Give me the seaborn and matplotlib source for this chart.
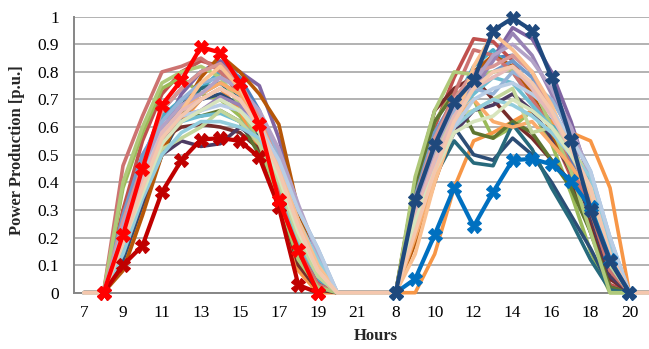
import numpy as np
import pandas as pd
import matplotlib
matplotlib.use("Agg")
import matplotlib.pyplot as plt
import seaborn as sns

# Hour labels of the two days shown side by side (30 category slots)
day1_hours = list(range(7, 22))
day2_hours = list(range(7, 22))
hour_labels = [str(h) for h in day1_hours + day2_hours]

# Daily production profiles (p.u.) for hours 9..19 of each day
profile_colors = [
    "#4F81BD", "#C0504D", "#9BBB59", "#8064A2", "#4BACC6", "#F79646",
    "#2C4D75", "#772C2A", "#5F7530", "#4D3B62", "#276A7C", "#B65708",
    "#729ACA", "#CD7371", "#AFC97A", "#9983B5", "#6FBDD1", "#F9AB6B",
    "#95B3D7", "#D99694", "#C3D69B", "#B3A2C7", "#93CDDD", "#FAC090",
    "#B9CDE5", "#E6B9B8", "#D7E4BD", "#F4C7AE",
]
day1_profiles = [
    [0.25, 0.48, 0.66, 0.74, 0.80, 0.83, 0.78, 0.66, 0.47, 0.25, 0.08],
    [0.30, 0.55, 0.72, 0.80, 0.84, 0.82, 0.74, 0.60, 0.40, 0.18, 0.04],
    [0.38, 0.58, 0.74, 0.78, 0.72, 0.70, 0.64, 0.55, 0.36, 0.14, 0.02],
    [0.18, 0.40, 0.58, 0.72, 0.80, 0.84, 0.80, 0.75, 0.56, 0.30, 0.10],
    [0.15, 0.38, 0.64, 0.70, 0.74, 0.80, 0.72, 0.58, 0.40, 0.20, 0.05],
    [0.10, 0.30, 0.52, 0.62, 0.70, 0.74, 0.66, 0.52, 0.32, 0.08, 0.00],
    [0.12, 0.32, 0.50, 0.64, 0.70, 0.72, 0.68, 0.62, 0.50, 0.28, 0.10],
    [0.20, 0.40, 0.56, 0.60, 0.61, 0.60, 0.58, 0.52, 0.34, 0.10, 0.01],
    [0.22, 0.42, 0.60, 0.66, 0.64, 0.66, 0.62, 0.50, 0.32, 0.12, 0.02],
    [0.14, 0.33, 0.50, 0.55, 0.53, 0.54, 0.60, 0.55, 0.40, 0.16, 0.03],
    [0.16, 0.36, 0.58, 0.68, 0.74, 0.76, 0.70, 0.56, 0.38, 0.14, 0.02],
    [0.08, 0.28, 0.50, 0.66, 0.78, 0.86, 0.80, 0.72, 0.61, 0.30, 0.08],
    [0.28, 0.50, 0.62, 0.70, 0.72, 0.76, 0.72, 0.60, 0.44, 0.24, 0.10],
    [0.46, 0.64, 0.80, 0.82, 0.85, 0.80, 0.72, 0.58, 0.38, 0.16, 0.03],
    [0.40, 0.60, 0.76, 0.80, 0.82, 0.78, 0.68, 0.54, 0.34, 0.12, 0.02],
    [0.20, 0.42, 0.56, 0.64, 0.66, 0.71, 0.68, 0.60, 0.46, 0.22, 0.06],
    [0.24, 0.44, 0.60, 0.62, 0.64, 0.65, 0.62, 0.55, 0.40, 0.18, 0.06],
    [0.18, 0.38, 0.58, 0.66, 0.72, 0.76, 0.72, 0.62, 0.44, 0.22, 0.06],
    [0.22, 0.44, 0.62, 0.70, 0.76, 0.78, 0.74, 0.64, 0.50, 0.30, 0.16],
    [0.26, 0.46, 0.66, 0.74, 0.80, 0.83, 0.76, 0.64, 0.46, 0.26, 0.08],
    [0.16, 0.36, 0.52, 0.56, 0.60, 0.66, 0.62, 0.54, 0.40, 0.20, 0.06],
    [0.24, 0.44, 0.60, 0.68, 0.72, 0.78, 0.74, 0.66, 0.52, 0.32, 0.14],
    [0.14, 0.34, 0.50, 0.58, 0.62, 0.62, 0.60, 0.56, 0.44, 0.26, 0.12],
    [0.20, 0.40, 0.56, 0.66, 0.76, 0.82, 0.74, 0.62, 0.46, 0.26, 0.10],
    [0.22, 0.42, 0.58, 0.64, 0.66, 0.68, 0.66, 0.60, 0.48, 0.30, 0.16],
    [0.20, 0.40, 0.58, 0.66, 0.70, 0.74, 0.70, 0.60, 0.44, 0.24, 0.08],
    [0.18, 0.36, 0.54, 0.62, 0.66, 0.70, 0.66, 0.58, 0.42, 0.22, 0.08],
    [0.18, 0.38, 0.56, 0.64, 0.70, 0.74, 0.70, 0.60, 0.44, 0.24, 0.08],
]
day2_profiles = [
    [0.30, 0.52, 0.68, 0.78, 0.85, 0.86, 0.80, 0.66, 0.48, 0.30, 0.10],
    [0.35, 0.60, 0.78, 0.92, 0.91, 0.84, 0.72, 0.58, 0.42, 0.22, 0.03],
    [0.40, 0.62, 0.73, 0.70, 0.56, 0.60, 0.66, 0.54, 0.36, 0.15, 0.00],
    [0.22, 0.45, 0.62, 0.74, 0.85, 0.96, 0.92, 0.80, 0.62, 0.40, 0.16],
    [0.25, 0.50, 0.68, 0.82, 0.88, 0.80, 0.70, 0.62, 0.50, 0.38, 0.10],
    [0.00, 0.14, 0.38, 0.55, 0.58, 0.62, 0.66, 0.62, 0.58, 0.55, 0.38],
    [0.30, 0.48, 0.60, 0.50, 0.48, 0.56, 0.50, 0.40, 0.28, 0.16, 0.02],
    [0.40, 0.66, 0.74, 0.78, 0.70, 0.62, 0.56, 0.48, 0.40, 0.25, 0.05],
    [0.38, 0.62, 0.72, 0.58, 0.56, 0.62, 0.58, 0.48, 0.38, 0.22, 0.02],
    [0.20, 0.44, 0.58, 0.66, 0.68, 0.72, 0.66, 0.56, 0.44, 0.28, 0.06],
    [0.25, 0.42, 0.55, 0.47, 0.46, 0.61, 0.52, 0.38, 0.26, 0.12, 0.01],
    [0.18, 0.40, 0.60, 0.80, 0.86, 0.82, 0.72, 0.58, 0.44, 0.30, 0.08],
    [0.35, 0.58, 0.70, 0.76, 0.80, 0.84, 0.78, 0.66, 0.52, 0.34, 0.12],
    [0.32, 0.55, 0.72, 0.88, 0.86, 0.80, 0.70, 0.60, 0.46, 0.30, 0.08],
    [0.42, 0.66, 0.80, 0.79, 0.80, 0.81, 0.76, 0.60, 0.44, 0.22, 0.00],
    [0.26, 0.50, 0.66, 0.74, 0.84, 0.94, 0.86, 0.72, 0.56, 0.36, 0.10],
    [0.32, 0.52, 0.64, 0.72, 0.78, 0.76, 0.68, 0.60, 0.50, 0.40, 0.14],
    [0.20, 0.42, 0.62, 0.70, 0.62, 0.60, 0.62, 0.54, 0.46, 0.36, 0.14],
    [0.28, 0.50, 0.66, 0.74, 0.72, 0.80, 0.76, 0.70, 0.58, 0.44, 0.20],
    [0.34, 0.56, 0.70, 0.80, 0.82, 0.86, 0.80, 0.66, 0.50, 0.36, 0.12],
    [0.30, 0.50, 0.64, 0.66, 0.70, 0.74, 0.58, 0.60, 0.52, 0.42, 0.10],
    [0.30, 0.52, 0.68, 0.76, 0.86, 0.90, 0.84, 0.74, 0.60, 0.42, 0.16],
    [0.28, 0.46, 0.60, 0.66, 0.70, 0.68, 0.64, 0.58, 0.50, 0.42, 0.16],
    [0.14, 0.40, 0.60, 0.82, 0.94, 0.88, 0.80, 0.68, 0.52, 0.36, 0.12],
    [0.24, 0.46, 0.60, 0.70, 0.74, 0.76, 0.72, 0.66, 0.56, 0.44, 0.20],
    [0.28, 0.48, 0.64, 0.74, 0.78, 0.82, 0.74, 0.64, 0.52, 0.38, 0.14],
    [0.26, 0.44, 0.58, 0.62, 0.64, 0.70, 0.66, 0.60, 0.50, 0.38, 0.12],
    [0.22, 0.44, 0.62, 0.74, 0.80, 0.82, 0.76, 0.66, 0.52, 0.38, 0.14],
]

# Highlighted days with markers
red_hours = list(range(8, 20))
red_high = [0.0, 0.21, 0.45, 0.68, 0.77, 0.89, 0.87, 0.76, 0.61, 0.335, 0.155, 0.0]
red_low = [0.0, 0.10, 0.17, 0.365, 0.48, 0.555, 0.56, 0.55, 0.49, 0.31, 0.028, 0.0]
blue_hours = list(range(8, 21))
navy_high = [0.0, 0.335, 0.535, 0.69, 0.77, 0.95, 0.995, 0.95, 0.78, 0.555, 0.30, 0.115, 0.0]
blue_low = [0.0, 0.05, 0.21, 0.38, 0.24, 0.365, 0.48, 0.485, 0.465, 0.405, 0.31, 0.12, 0.0]


def slot(day, hour):
    return (day - 1) * 15 + (hour - 7)


# Long table of the background profiles over all 30 slots
rows = []
for k, (d1, d2) in enumerate(zip(day1_profiles, day2_profiles)):
    full = [0.0, 0.0] + d1 + [0.0, 0.0] + [0.0, 0.0] + d2 + [0.0, 0.0]
    for pos, val in enumerate(full):
        rows.append({"series": k, "pos": pos, "value": val})
bg = pd.DataFrame(rows)

sns.set_theme(style="white")
plt.rcParams["font.family"] = ["Liberation Serif", "DejaVu Serif"]
plt.rcParams["font.size"] = 12.5

fig = plt.figure(figsize=(6.49, 3.49), dpi=100)
W, H = 649, 349
left_px, right_px = 74.3, 74.3 + 30 * 19.48
top_px, bot_px = 16.7, 292.7
ax = fig.add_axes([left_px / W, 1 - bot_px / H, (right_px - left_px) / W, (bot_px - top_px) / H])

sns.lineplot(data=bg, x="pos", y="value", hue="series", palette=profile_colors,
             estimator=None, sort=False, legend=False, linewidth=2.6, ax=ax,
             clip_on=False, zorder=3)


def highlight(day, hours, vals, color):
    df = pd.DataFrame({"pos": [slot(day, h) for h in hours], "value": vals})
    sns.lineplot(data=df, x="pos", y="value", color=color, linewidth=3.0,
                 marker="X", markersize=10, markeredgecolor=color,
                 markeredgewidth=0.8, estimator=None, sort=False, ax=ax,
                 clip_on=False, zorder=5)


highlight(1, red_hours, red_low, "#C00000")
highlight(1, red_hours, red_high, "#FF0000")
highlight(2, blue_hours, blue_low, "#0070C0")
highlight(2, blue_hours, navy_high, "#1F497D")

grid_c = "#A6A6A6"
axis_c = "#868686"
ax.set_xlim(-0.5, 29.5)
ax.set_ylim(0, 1)
ax.set_yticks(np.arange(0, 1.01, 0.1))
ax.set_yticklabels(["0"] + [f"{v:.1f}" for v in np.arange(0.1, 0.95, 0.1)] + ["1"])
ax.yaxis.grid(True, color=grid_c, linewidth=1.2)
ax.set_axisbelow(True)

ax.set_xticks(range(0, 30, 2))
ax.set_xticklabels(hour_labels[0:30:2])
ax.set_xticks(np.arange(-0.5, 30, 1), minor=True)
ax.tick_params(axis="x", which="major", length=0, pad=9, labelsize=12.5, colors="black")
ax.tick_params(axis="x", which="minor", length=4, width=1.1, color=axis_c, direction="out")
ax.tick_params(axis="y", which="major", length=4, width=1.1, color=grid_c, direction="out",
               pad=7, labelsize=12.5, labelcolor="black")

for side in ["top", "right"]:
    ax.spines[side].set_visible(False)
ax.spines["left"].set_color(axis_c)
ax.spines["left"].set_linewidth(1.4)
ax.spines["bottom"].set_color(axis_c)
ax.spines["bottom"].set_linewidth(1.4)
ax.set_xlabel("")
ax.set_ylabel("")

fig.text(376 / W, 1 - 336 / H, "Hours", ha="center", va="center",
         fontsize=12, fontweight="bold")
fig.text(17 / W, 1 - 150 / H, "Power Production [p.u.]", ha="center", va="center",
         rotation=90, fontsize=12, fontweight="bold")

fig.savefig("out.png", dpi=100)
